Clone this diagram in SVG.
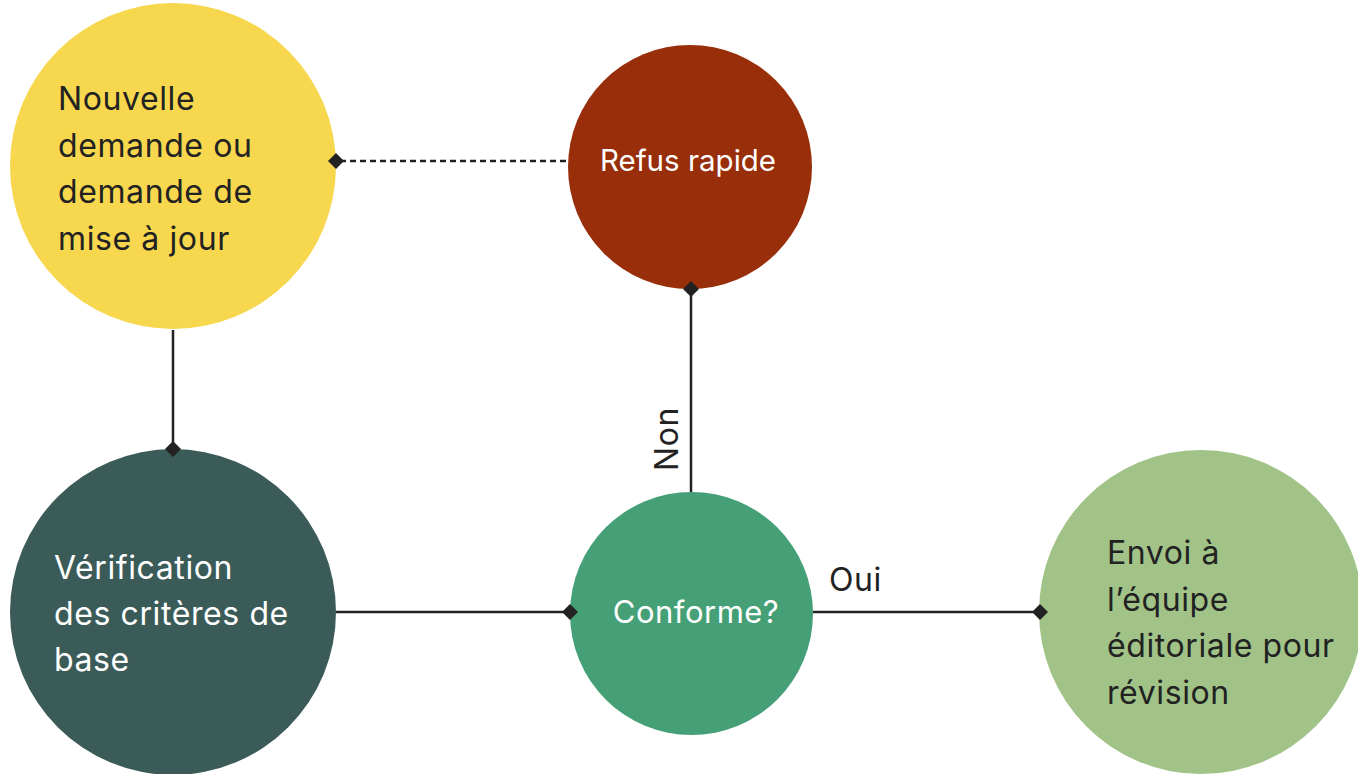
<svg xmlns="http://www.w3.org/2000/svg" width="1358" height="774" viewBox="0 0 1358 774">
<style>
.t{font-family:Inter,"Noto Sans","Liberation Sans",sans-serif;font-size:32px;letter-spacing:0.6px;}
.s{font-size:29.5px;letter-spacing:0px;}
.c{font-size:31px;letter-spacing:0.5px;}
.dk{fill:#222222;}
.wh{fill:#ffffff;}
.ln{stroke:#222222;stroke-width:2.5;fill:none;}
.dm{fill:#222222;}
</style>
<defs>
<path id="d" d="M0,-8 L8,0 L0,8 L-8,0 Z"/>
</defs>
<rect width="1358" height="774" fill="#ffffff"/>
<g id="connectors">
<line class="ln" x1="173" y1="330" x2="173" y2="449"/>
<line class="ln" x1="336" y1="612" x2="570" y2="612"/>
<line class="ln" x1="813" y1="612" x2="1040" y2="612"/>
<line class="ln" x1="691" y1="492" x2="691" y2="289"/>
<line class="ln" x1="566" y1="161" x2="336" y2="161" stroke-dasharray="6 4"/>
<text class="t dk" x="829" y="591">Oui</text>
<text class="t dk" transform="translate(678,439) rotate(-90)" text-anchor="middle">Non</text>
</g>
<g id="n1">
<circle cx="173" cy="166" r="163" fill="#F7D74E"/>
<text class="t dk" x="58"><tspan x="58" y="110">Nouvelle</tspan><tspan x="58" y="157">demande ou</tspan><tspan x="58" y="203">demande de</tspan><tspan x="58" y="250">mise à jour</tspan></text>
</g>
<g id="n2">
<circle cx="690" cy="167" r="122" fill="#982E0A"/>
<text class="t s wh" x="688" y="171" text-anchor="middle">Refus rapide</text>
</g>
<g id="n3">
<circle cx="173" cy="612" r="163" fill="#3A5B58"/>
<text class="t wh" x="54"><tspan x="54" y="579">Vérification</tspan><tspan x="54" y="625">des critères de</tspan><tspan x="54" y="671">base</tspan></text>
</g>
<g id="n4">
<circle cx="691.5" cy="613.5" r="121.5" fill="#45A077"/>
<text class="t c wh" x="696" y="623" text-anchor="middle">Conforme?</text>
</g>
<g id="n5">
<circle cx="1201" cy="612" r="162" fill="#A1C387"/>
<text class="t dk" x="1107"><tspan x="1107" y="564">Envoi à</tspan><tspan x="1107" y="611">l’équipe</tspan><tspan x="1107" y="657">éditoriale pour</tspan><tspan x="1107" y="704">révision</tspan></text>
</g>
<g id="markers">
<use href="#d" class="dm" x="173" y="449"/>
<use href="#d" class="dm" x="570" y="612"/>
<use href="#d" class="dm" x="1040" y="612"/>
<use href="#d" class="dm" x="691" y="289"/>
<use href="#d" class="dm" x="336" y="161"/>
</g>
</svg>
